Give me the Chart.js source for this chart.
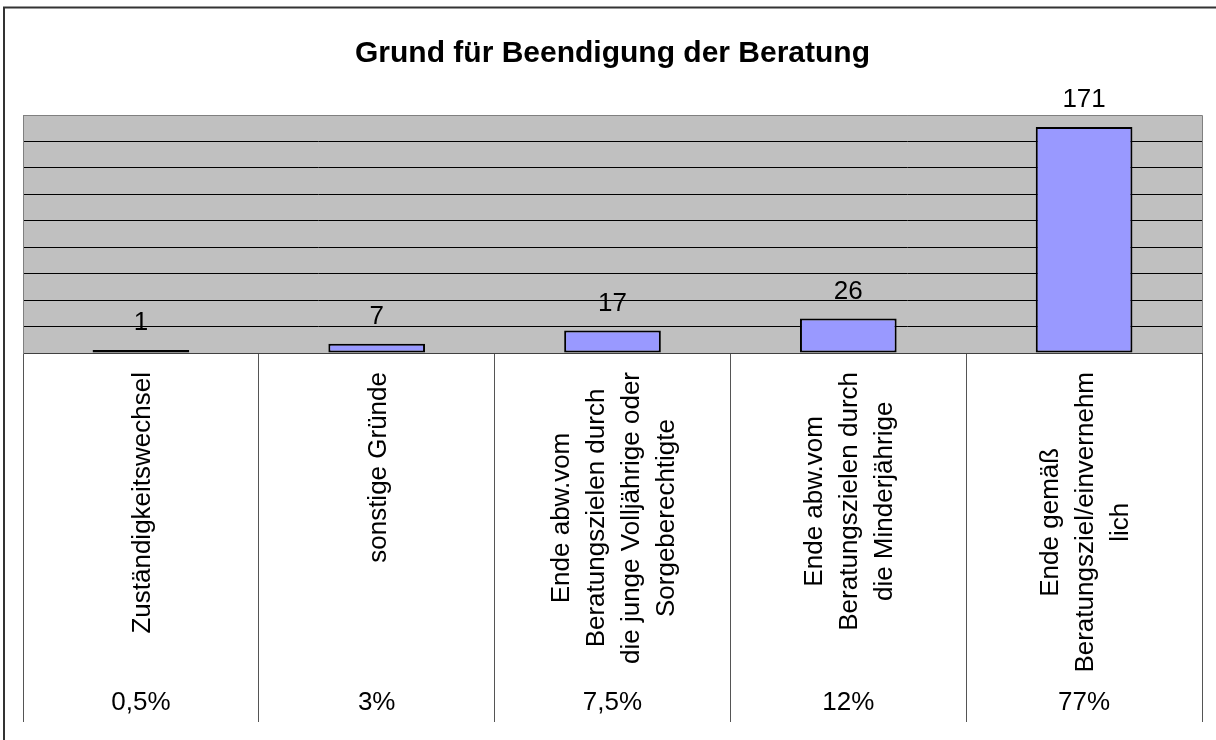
<!DOCTYPE html>
<html><head><meta charset="utf-8">
<script src="https://cdn.jsdelivr.net/npm/chart.js@4.4.1/dist/chart.umd.min.js"></script>
<style>html,body{margin:0;padding:0;background:#fff;}#wrap{position:relative;width:1216px;height:740px;}</style>
</head><body><div id="wrap"><canvas id="c" width="1216" height="740"></canvas></div>
<script>
const chartTitle = 'Grund für Beendigung der Beratung';
const categories = [
  ['Zuständigkeitswechsel'],
  ['sonstige Gründe'],
  ['Ende abw.vom', 'Beratungszielen durch', 'die junge Volljährige oder', 'Sorgeberechtigte'],
  ['Ende abw.vom', 'Beratungszielen durch', 'die Minderjährige'],
  ['Ende gemäß', 'Beratungsziel/einvernehm', 'lich']
];
const values = [1, 7, 17, 26, 171];
const percentages = ['0,5%', '3%', '7,5%', '12%', '77%'];
const yMin = 0, yMax = 180, yStep = 20;

const FONT = '"Liberation Sans", Arial, sans-serif';
const TXT = 26, LINE_H = 35;

const bgPlugin = {
  id: 'bg',
  beforeDraw(chart) {
    const {ctx, chartArea: a} = chart;
    ctx.save();
    ctx.fillStyle = '#fff';
    ctx.fillRect(0, 0, chart.width, chart.height);
    ctx.fillStyle = '#C0C0C0';
    ctx.fillRect(a.left, a.top, a.right - a.left, a.bottom - a.top);
    ctx.restore();
  }
};

const labelPlugin = {
  id: 'labels',
  afterDraw(chart) {
    const {ctx, chartArea: a, scales: {x}} = chart;
    ctx.save();
    // outer frame
    ctx.strokeStyle = '#333';
    ctx.lineWidth = 2;
    ctx.beginPath();
    ctx.moveTo(4, chart.height); ctx.lineTo(4, 7.5); ctx.lineTo(chart.width, 7.5);
    ctx.stroke();
    // plot area top/right border
    ctx.strokeStyle = '#808080';
    ctx.lineWidth = 1;
    ctx.beginPath();
    ctx.moveTo(a.left, a.top + 0.5); ctx.lineTo(a.right + 0.5, a.top + 0.5); ctx.lineTo(a.right + 0.5, a.bottom);
    ctx.stroke();

    ctx.fillStyle = '#000';
    ctx.font = TXT + 'px ' + FONT;
    ctx.textAlign = 'center';
    ctx.textBaseline = 'alphabetic';
    const meta = chart.getDatasetMeta(0);
    meta.data.forEach((bar, i) => ctx.fillText(String(values[i]), bar.x, bar.y - 20));

    categories.forEach((lines, i) => {
      const cx = x.getPixelForValue(i);
      const w = Math.max(...lines.map(l => ctx.measureText(l).width));
      ctx.save();
      ctx.translate(cx + 2, a.bottom + 19 + w / 2);
      ctx.rotate(-Math.PI / 2);
      ctx.textBaseline = 'middle';
      lines.forEach((l, j) => ctx.fillText(l, 0, (j - (lines.length - 1) / 2) * LINE_H));
      ctx.restore();
    });

    ctx.textBaseline = 'middle';
    percentages.forEach((p, i) => ctx.fillText(p, x.getPixelForValue(i), x.bottom - 19));
    ctx.restore();
  }
};

new Chart(document.getElementById('c'), {
  type: 'bar',
  data: {
    labels: categories,
    datasets: [{
      data: values,
      backgroundColor: '#9999FF',
      borderColor: '#000',
      borderWidth: 2,
      borderSkipped: false,
      minBarLength: 3,
      barPercentage: 0.41,
      categoryPercentage: 1
    }]
  },
  options: {
    responsive: false,
    animation: false,
    devicePixelRatio: 1,
    layout: {padding: {top: 0, left: 23, right: 14, bottom: 18}},
    plugins: {
      legend: {display: false},
      tooltip: {enabled: false},
      title: {
        display: true,
        text: chartTitle,
        color: '#000',
        font: {family: FONT, size: 30, weight: 'bold', lineHeight: 1.2},
        padding: {top: 36, bottom: 43}
      }
    },
    scales: {
      x: {
        type: 'category',
        offset: true,
        grid: {display: true, drawOnChartArea: false, drawTicks: true, tickLength: 369, color: '#555', lineWidth: 1, offset: true},
        border: {display: true, color: '#404040', width: 1},
        ticks: {display: false}
      },
      y: {
        min: yMin, max: yMax,
        ticks: {display: false, stepSize: yStep},
        grid: {
          drawTicks: false,
          color: c => (c.tick && c.tick.value === yMax) ? '#808080' : '#000',
          lineWidth: 1
        },
        border: {display: true, color: '#808080', width: 1}
      }
    }
  },
  plugins: [bgPlugin, labelPlugin]
});
</script>
</body></html>
